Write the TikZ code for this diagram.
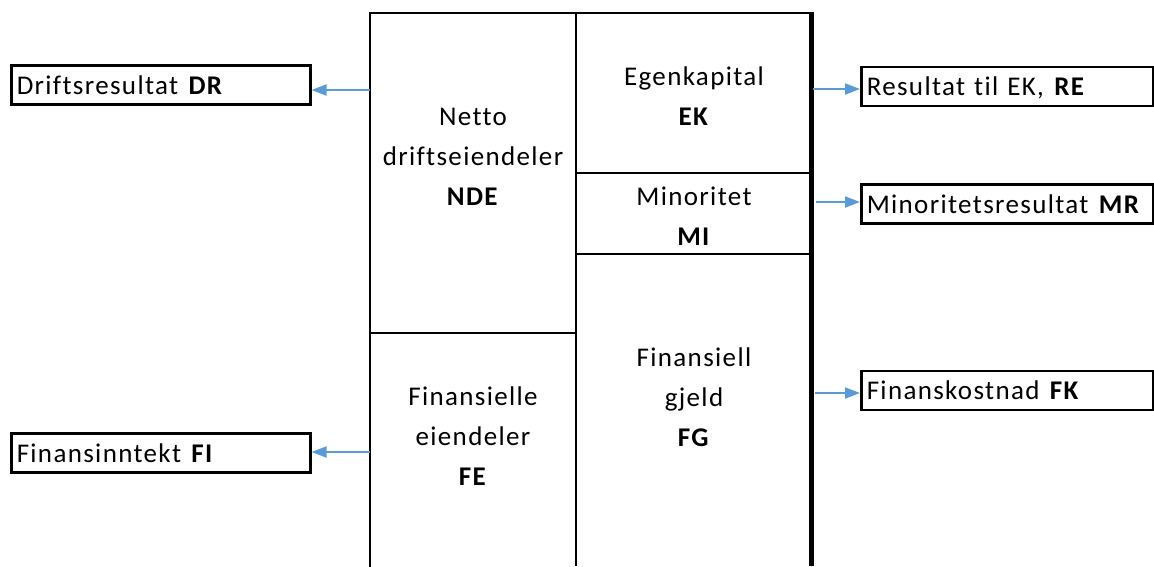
\documentclass[tikz,border=0pt]{standalone}
\usepackage{fontspec}
\setmainfont{Carlito}[LetterSpace=5, Ligatures={NoCommon}]
\usetikzlibrary{arrows.meta}
\definecolor{arrowblue}{HTML}{5B9BD5}
\tikzset{
  x={(1pt,0)}, y={(0,-1pt)},
  frame/.style={line width=2.5pt, black},
  thickframe/.style={line width=5pt, black},
  cell/.style={align=center, font=\fontsize{27}{40}\selectfont, inner sep=0pt},
  outbox/.style={draw, line width=2.5pt, minimum height=39pt, align=left, anchor=west,
    font=\fontsize{27}{30}\selectfont, inner sep=0pt, text width=#1, text depth=0pt},
  flow/.style={draw=arrowblue, line width=2pt, -{Triangle[length=15pt,width=11pt]}}
}
\begin{document}
\begin{tikzpicture}
\useasboundingbox (0,0) rectangle (1154,566);
% balance frame
\draw[frame, line cap=rect] (370,566) -- (370,13) -- (811,13);
\draw[frame] (576,13) -- (576,566);
\draw[thickframe] (811,11.5) -- (811,566);
\draw[frame] (370,333) -- (576,333);
\draw[frame] (576,173) -- (811,173);
\draw[frame] (576,254) -- (811,254);
% cell texts
\node[cell] (nde) at (473,157) {Netto\\driftseiendeler\\\textbf{NDE}};
\node[cell] (ek) at (694,96) {Egenkapital\\\textbf{EK}};
\node[cell] (mi) at (694,216) {Minoritet\\\textbf{MI}};
\node[cell] (fg) at (694,397) {Finansiell\\gjeld\\\textbf{FG}};
\node[cell] (fe) at (473,436) {Finansielle\\eiendeler\\\textbf{FE}};
% outside boxes
\node[outbox=294pt, minimum width=299pt] (dr) at (10,85) {\hspace*{3pt}Driftsresultat \textbf{DR}};
\node[outbox=294pt, minimum width=299pt] (fi) at (10,453) {\hspace*{3pt}Finansinntekt \textbf{FI}};
\node[outbox=287pt, minimum width=292pt] (re) at (860,86.5) {\hspace*{3pt}Resultat til EK, \textbf{RE}};
\node[outbox=287pt, minimum width=292pt] (mr) at (860,204) {\hspace*{3pt}Minoritetsresultat \textbf{MR}};
\node[outbox=287pt, minimum width=292pt] (fk) at (860,390.5) {\hspace*{3pt}Finanskostnad \textbf{FK}};
% arrow start points
\coordinate (sdr) at (370,90);
\coordinate (sfi) at (370,452);
\coordinate (sre) at (813,89);
\coordinate (smr) at (816,202);
\coordinate (sfk) at (815,393);
\draw[flow] (sdr) -- (sdr -| dr.east);
\draw[flow] (sfi) -- (sfi -| fi.east);
\draw[flow] (sre) -- (sre -| re.west);
\draw[flow] (smr) -- (smr -| mr.west);
\draw[flow] (sfk) -- (sfk -| fk.west);
\end{tikzpicture}
\end{document}
